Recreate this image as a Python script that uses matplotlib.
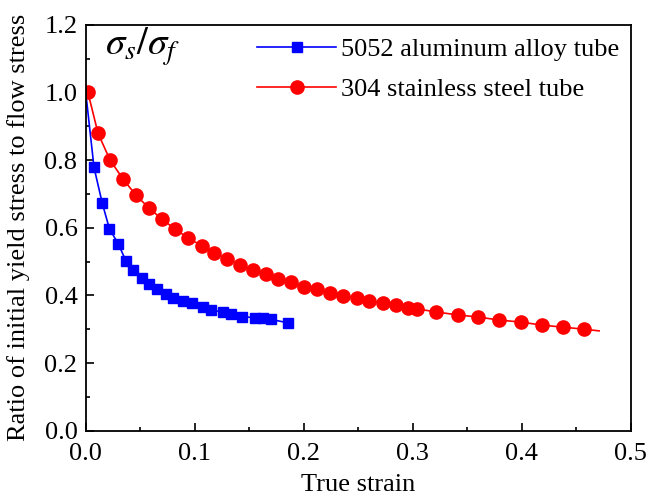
import matplotlib
matplotlib.use("Agg")
import matplotlib.pyplot as plt
from matplotlib.ticker import MultipleLocator

plt.rcParams['font.family'] = ['Liberation Serif', 'DejaVu Serif']
plt.rcParams['mathtext.fontset'] = 'stix'

# ========= DATA =========
al_x = [0.0, 0.0076, 0.0152, 0.0217, 0.0299, 0.0367, 0.0437, 0.0514, 0.0583,
        0.0657, 0.0734, 0.0804, 0.0890, 0.0972, 0.1073, 0.1150, 0.1262,
        0.1333, 0.1437, 0.1553, 0.1624, 0.1697, 0.1853]
al_y = [1.0, 0.778, 0.672, 0.597, 0.552, 0.503, 0.475, 0.450, 0.435,
        0.418, 0.403, 0.393, 0.384, 0.376, 0.365, 0.357, 0.350,
        0.344, 0.337, 0.334, 0.332, 0.329, 0.319]

ss_x = [0.002, 0.0113, 0.0223, 0.0342, 0.0461, 0.0581, 0.070, 0.0819, 0.0938,
        0.1067, 0.1177, 0.1296, 0.1416, 0.1535, 0.1654, 0.1764, 0.1884,
        0.2003, 0.2122, 0.2241, 0.2361, 0.2489, 0.2599, 0.2728, 0.2847,
        0.2957, 0.3040, 0.3214, 0.3416, 0.3600, 0.3792, 0.3994, 0.4186,
        0.4379, 0.4571]
ss_y = [1.0, 0.879, 0.800, 0.744, 0.696, 0.658, 0.625, 0.596, 0.570,
        0.546, 0.525, 0.508, 0.490, 0.475, 0.463, 0.449, 0.440,
        0.425, 0.419, 0.407, 0.398, 0.392, 0.383, 0.377, 0.371,
        0.362, 0.360, 0.351, 0.342, 0.336, 0.327, 0.321, 0.312,
        0.306, 0.300]
# fitted line runs a little past the last measured point
ss_end_x = 0.471
ss_end_y = 0.295

fig = plt.figure(figsize=(6.62, 4.96), dpi=100)
ax = fig.add_axes([0.1295, 0.1317, 0.8232, 0.8185])

ax.plot(al_x, al_y, color='#0000ff', lw=1.2, marker='s', ms=7.5,
        label='5052 aluminum alloy tube')
ax.plot(ss_x + [ss_end_x], ss_y + [ss_end_y], color='#ff0000', lw=1.2,
        marker='o', ms=9.5, markevery=list(range(len(ss_x))),
        label='304 stainless steel tube')

ax.set_xlim(0, 0.5)
ax.set_ylim(0, 1.2)
ax.xaxis.set_major_locator(MultipleLocator(0.1))
ax.xaxis.set_minor_locator(MultipleLocator(0.05))
ax.yaxis.set_major_locator(MultipleLocator(0.2))
ax.yaxis.set_minor_locator(MultipleLocator(0.1))
ax.tick_params(which='both', direction='in', labelsize=19, width=1.2)
ax.tick_params(which='major', length=6)
ax.tick_params(which='minor', length=3)
ax.tick_params(axis='x', pad=9)
ax.tick_params(axis='y', pad=6)
for s in ax.spines.values():
    s.set_linewidth(1.3)

ax.set_xlabel('True strain', fontsize=19, labelpad=6)
ax.set_ylabel('Ratio of initial yield stress to flow stress', fontsize=19, labelpad=10)

ax.text(0.035, 0.945, r'$\sigma_s/\sigma_f$', transform=ax.transAxes,
        fontsize=28, ha='left', va='center')

ax.legend(loc='upper left', bbox_to_anchor=(0.295, 0.995), frameon=False,
          fontsize=19, handlelength=3.0, handletextpad=0.2,
          borderaxespad=0.0, labelspacing=0.65)

fig.savefig('out.png', dpi=100)
